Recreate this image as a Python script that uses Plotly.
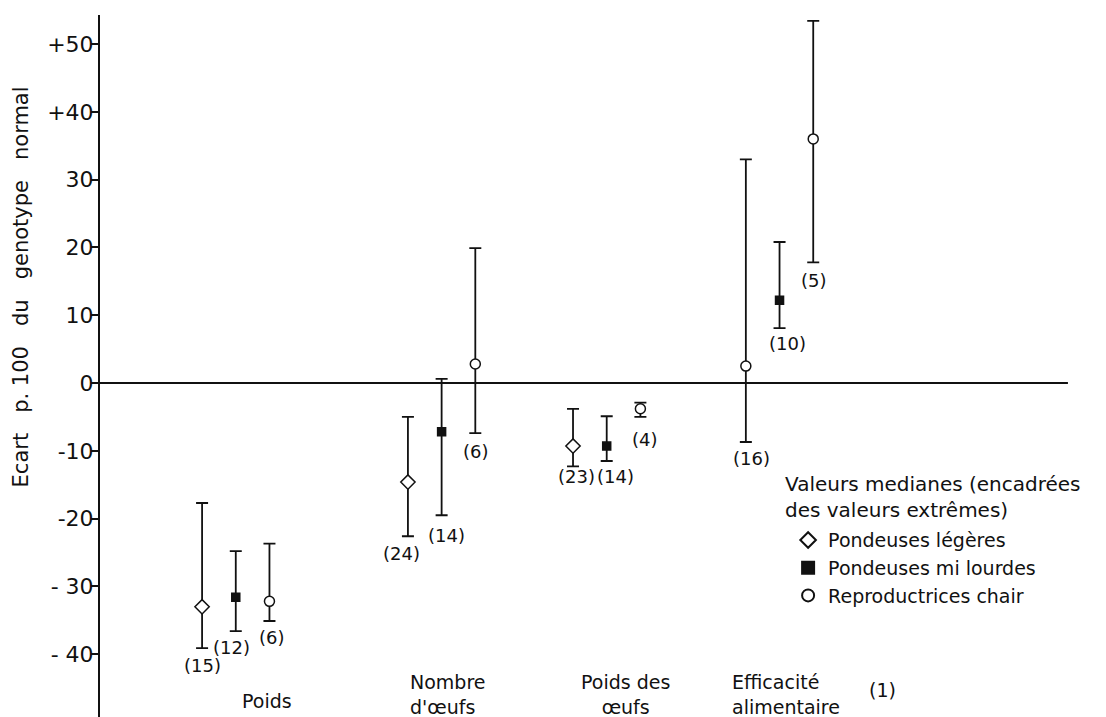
import plotly.graph_objects as go

# ---------------- data ----------------
groups = ["Poids", "Nombre<br>d'œufs", "Poids des<br>œufs", "Efficacité<br>alimentaire"]
group_pos = [0.0, 6.11, 11.01, 16.14]   # left slot of each group (x units = slot spacing)

legeres_group = [0, 1, 2]
legeres_slot = [0, 0, 0]
legeres_med = [-33.0, -14.6, -9.3]
legeres_min = [-39.1, -22.6, -12.3]
legeres_max = [-17.7, -5.0, -3.8]
legeres_n = [15, 24, 23]

milourdes_group = [0, 1, 2, 3]
milourdes_slot = [1, 1, 1, 1]
milourdes_med = [-31.6, -7.2, -9.3, 12.2]
milourdes_min = [-36.6, -19.5, -11.5, 8.1]
milourdes_max = [-24.8, 0.6, -4.9, 20.8]
milourdes_n = [12, 14, 14, 10]

chair_group = [0, 1, 2, 3, 3]
chair_slot = [2, 2, 2, 0, 2]
chair_med = [-32.2, 2.8, -3.8, 2.5, 36.0]
chair_min = [-35.1, -7.4, -5.0, -8.7, 17.8]
chair_max = [-23.7, 19.9, -2.9, 33.0, 53.4]
chair_n = [6, 6, 4, 16, 5]

tick_vals = [-40, -30, -20, -10, 0, 10, 20, 30, 40, 50]
tick_text = ["- 40", "- 30", "-20", "-10", "0", "10", "20", "30", "+40", "+50"]

# ---------------- style ----------------
FONT = "DejaVu Sans"
INK = "#111111"

series = [
    ("Pondeuses légères", legeres_group, legeres_slot, legeres_med, legeres_min, legeres_max, legeres_n,
     "diamond", "white", 11),
    ("Pondeuses mi lourdes", milourdes_group, milourdes_slot, milourdes_med, milourdes_min, milourdes_max, milourdes_n,
     "square", INK, 8),
    ("Reproductrices chair", chair_group, chair_slot, chair_med, chair_min, chair_max, chair_n,
     "circle", "white", 10),
]

# label offsets (pixels) for the sample size labels, per series
label_dx = [[0, -6, 3], [-4, 5, 9, 8], [3, 1, 5, 6, 1]]
label_dy = [[-17, -17, -10], [-16, -20, -16, -15], [-16, -18, -23, -16, -18]]

fig = go.Figure()
annotations = []

for si, (name, grp, slot, med, lo, hi, n, sym, fill, size) in enumerate(series):
    xs = [group_pos[g] + s for g, s in zip(grp, slot)]
    fig.add_trace(go.Scatter(
        x=xs, y=med, mode="markers", name=name,
        marker=dict(symbol=sym, size=size, color=fill, line=dict(color=INK, width=1.5)),
        error_y=dict(type="data", symmetric=False,
                     array=[h - m for h, m in zip(hi, med)],
                     arrayminus=[m - l for m, l in zip(med, lo)],
                     color=INK, thickness=1.8, width=6),
    ))
    for k, (x, l, c) in enumerate(zip(xs, lo, n)):
        annotations.append(dict(
            x=x, y=l, xref="x", yref="y", text=f"({c})", showarrow=False,
            xshift=label_dx[si][k], yshift=label_dy[si][k],
            font=dict(family=FONT, size=18, color=INK),
        ))

# category labels
cat_font = dict(family=FONT, size=19, color=INK)
cat_specs = [
    dict(x=1.93, y=-46.9, xanchor="center", align="center"),
    dict(x=6.11, y=-45.9, xanchor="left", align="left"),
    dict(x=12.58, y=-45.9, xanchor="center", align="center"),
    dict(x=15.67, y=-45.9, xanchor="left", align="left"),
]
for g, spec in zip(groups, cat_specs):
    annotations.append(dict(text=g, xref="x", yref="y", showarrow=False,
                            yanchor="middle", font=cat_font, **spec))
annotations.append(dict(x=19.75, y=-45.3, text="(1)", xref="x", yref="y", showarrow=False,
                        xanchor="left", yanchor="middle", font=cat_font))

# legend heading
annotations.append(dict(
    x=(783 - 100) / 1006, y=(717 - 497) / 702, xref="paper", yref="paper", showarrow=False,
    text="Valeurs medianes (encadrées<br>des valeurs extrêmes)", align="left",
    xanchor="left", yanchor="middle", font=dict(family=FONT, size=20, color=INK),
))

# y-axis title
annotations.append(dict(
    x=-0.0785, y=0.612, xref="paper", yref="paper", showarrow=False,
    text="Ecart\u00a0\u00a0\u00a0p.\u00a0100\u00a0\u00a0\u00a0du\u00a0\u00a0\u00a0genotype\u00a0\u00a0\u00a0normal",
    textangle=-90, font=dict(family=FONT, size=21, color=INK),
    xanchor="center", yanchor="middle",
))

# zero line
fig.add_shape(type="line", xref="x", yref="y", x0=-3.03, x1=25.7, y0=0, y1=0,
              line=dict(color=INK, width=2), layer="below")

# page body has an 8px default margin: the figure is sized to fit the window
fig.update_layout(
    width=1098, height=709,
    margin=dict(l=92, r=0, t=7, b=0),
    paper_bgcolor="white", plot_bgcolor="white",
    showlegend=True,
    legend=dict(
        x=0.684, y=0.279, xanchor="left", yanchor="top",
        bgcolor="rgba(0,0,0,0)",
        font=dict(family=FONT, size=19, color=INK),
        itemsizing="constant",
    ),
    annotations=annotations,
    xaxis=dict(visible=False, range=[-3.03, 26.83]),
    yaxis=dict(range=[-49.26, 54.28], showline=True, linewidth=2, linecolor=INK,
               ticks="outside", ticklen=7, tickwidth=1.5, tickcolor=INK,
               tickvals=tick_vals, ticktext=tick_text, showgrid=False, zeroline=False,
               ticklabelstandoff=-7,
               tickfont=dict(family=FONT, size=22, color=INK)),
)

fig.write_html("out.html")
